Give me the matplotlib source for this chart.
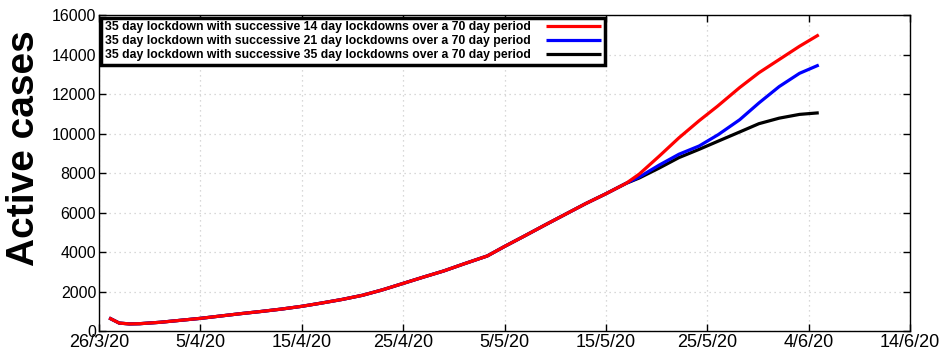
import numpy as np
import matplotlib.pyplot as plt

plt.rcParams['font.family'] = ['Liberation Sans', 'DejaVu Sans']

# days since 26/3/20
tick_days = [0, 10, 20, 30, 40, 50, 60, 70, 80]
tick_labels = ['26/3/20', '5/4/20', '15/4/20', '25/4/20', '5/5/20',
               '15/5/20', '25/5/20', '4/6/20', '14/6/20']

# common part of the trajectory before the lockdown schedules split
shared_days = [1, 2, 3, 4, 6, 8, 10, 12, 14, 16, 18, 20, 22, 24, 26, 28, 30,
               32, 34, 36, 38.3, 40, 42, 44, 46, 48, 50, 52]
shared_cases = [660, 400, 360, 370, 440, 540, 640, 760, 880, 990, 1110, 1250,
                1420, 1600, 1810, 2090, 2410, 2730, 3040, 3400, 3800, 4280,
                4820, 5370, 5910, 6450, 6950, 7480]

red_days = [53.3, 55.25, 57.2, 59.2, 61, 63.2, 65.1, 67.1, 69.1, 71]
red_cases = [7950, 8850, 9780, 10650, 11380, 12330, 13080, 13750, 14420, 15000]

blue_days = [53.3, 55.25, 57.2, 59.2, 61.1, 63.2, 65.1, 67.1, 69.1, 71]
blue_cases = [7800, 8400, 8950, 9370, 9950, 10700, 11550, 12380, 13050, 13470]

black_days = [53.3, 55.25, 57.2, 59.2, 61.1, 63.2, 65.1, 67.1, 69.1, 71]
black_cases = [7750, 8250, 8780, 9200, 9620, 10080, 10500, 10780, 10970, 11050]

labels = ['35 day lockdown with successive 14 day lockdowns over a 70 day period',
          '35 day lockdown with successive 21 day lockdowns over a 70 day period',
          '35 day lockdown with successive 35 day lockdowns over a 70 day period']

fig = plt.figure(figsize=(9.43, 3.59), dpi=100)
ax = fig.add_axes([0.105, 0.078, 0.86, 0.88])

series = [(black_days, black_cases, 'k'),
          (blue_days, blue_cases, '#0000ff'),
          (red_days, red_cases, '#ff0000')]
lines = []
for days, cases, c in series:
    x = np.array(shared_days + days)
    y = np.array(shared_cases + cases)
    ln, = ax.plot(x, y, color=c, lw=2.3, solid_capstyle='butt')
    lines.append(ln)

ax.set_xlim(0, 80)
ax.set_ylim(0, 16000)
ax.set_xticks(tick_days)
ax.set_xticklabels(tick_labels)
ax.set_yticks(np.arange(0, 16001, 2000))
ax.tick_params(direction='in', length=5, width=1, top=True, right=True, pad=2)
ax.tick_params(axis='x', labelsize=13)
ax.tick_params(axis='y', labelsize=11.5)
ax.grid(True, color='#cccccc', linestyle=(0, (1, 3)), lw=0.9)
for s in ax.spines.values():
    s.set_linewidth(1)
ax.set_ylabel('Active cases', fontsize=28, fontweight='bold')
ax.yaxis.set_label_coords(-0.07, 0.58)

leg = ax.legend(lines[::-1], labels, loc='upper left', markerfirst=False,
                bbox_to_anchor=(0.0, 1.0), borderaxespad=0.2,
                prop={'weight': 'bold', 'size': 8.85}, handlelength=4.5,
                fancybox=False, framealpha=1, edgecolor='k',
                labelspacing=0.15, borderpad=0.3, handletextpad=1.2)
leg.get_frame().set_linewidth(2.5)

fig.savefig('out.png', dpi=100)
